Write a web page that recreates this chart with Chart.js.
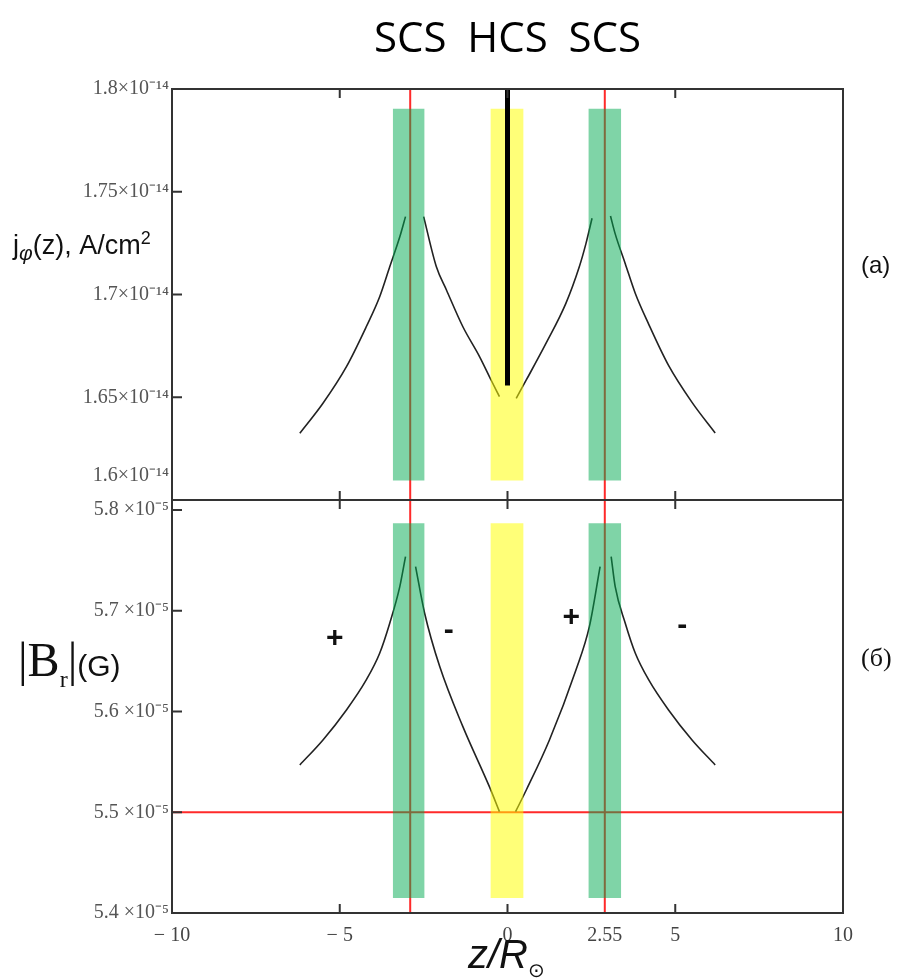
<!DOCTYPE html>
<html>
<head>
<meta charset="utf-8">
<script src="https://cdn.jsdelivr.net/npm/chart.js@4.4.0/dist/chart.umd.min.js"></script>
<style>
html,body{margin:0;padding:0;background:#fff;}
#wrap{position:relative;width:907px;height:978px;overflow:hidden;}
canvas{position:absolute;left:0;}
#top{top:0;}
#bot{top:488px;}
.lbl{position:absolute;white-space:nowrap;color:#111;}
</style>
</head>
<body>
<div id="wrap">
  <canvas id="top" width="907" height="510"></canvas>
  <canvas id="bot" width="907" height="490"></canvas>
  <div class="lbl" style="left:13px;top:228px;font:27px 'Liberation Sans';">j<sub style="font-style:italic;font-size:21px">φ</sub>(z), A/cm<sup style="font-size:18px">2</sup></div>
  <div class="lbl" style="left:18px;top:632px;"><span style="font:48px 'Liberation Serif';">|B<sub style="font-size:24px">r</sub>|</span><span style="font:30px 'Liberation Sans';">(G)</span></div>
  <div class="lbl" style="left:861px;top:251px;font:24px 'Liberation Sans';">(a)</div>
  <div class="lbl" style="left:861px;top:643px;font:26px 'Liberation Serif';">(б)</div>
  <div class="lbl" style="left:468px;top:932px;font:italic 40px 'Liberation Sans';">z/R<sub style="font-size:20px;font-style:normal">⊙</sub></div>
</div>
<script>
// ось z (в радиусах Солнца)
const zTickValues = [-10, -5, 0, 2.9, 5, 10];
const zTickLabels = ['\u2212 10', '\u2212 5', '0', '2.55', '5', '10'];
const zTickMarks = [-5, 0, 5];

// j_phi, в единицах 1e-14 A/cm^2
const jTickValues = [1.6, 1.65, 1.7, 1.75, 1.8];
const jTickLabels = ['1.6×10⁻¹⁴', '1.65×10⁻¹⁴', '1.7×10⁻¹⁴', '1.75×10⁻¹⁴', '1.8×10⁻¹⁴'];
// |B_r|, в единицах 1e-5 G
const bTickValues = [5.4, 5.5, 5.6, 5.7, 5.8];
const bTickLabels = ['5.4 ×10⁻⁵', '5.5 ×10⁻⁵', '5.6 ×10⁻⁵', '5.7 ×10⁻⁵', '5.8 ×10⁻⁵'];

// (a) четыре куска кривой j_phi(z)
const jZ1 = [-6.19, -5.50, -4.80, -4.21, -3.81, -3.51, -3.21, -3.04];
const jV1 = [1.6325, 1.6471, 1.6649, 1.6843, 1.6989, 1.7135, 1.7281, 1.7379];
const jZ2 = [-2.50, -2.12, -1.82, -1.33, -0.83, -0.49, -0.24];
const jV2 = [1.7379, 1.7135, 1.7022, 1.6843, 1.6697, 1.6584, 1.6503];
const jZ3 = [0.26, 0.56, 1.15, 1.74, 2.14, 2.34, 2.52];
const jV3 = [1.6495, 1.6584, 1.6763, 1.6957, 1.7135, 1.7249, 1.7371];
const jZ4 = [3.07, 3.21, 3.51, 3.81, 4.21, 4.80, 5.50, 6.19];
const jV4 = [1.7382, 1.7295, 1.7150, 1.7005, 1.6855, 1.6655, 1.6475, 1.6326];

// (б) четыре куска кривой |B_r|(z)
const bZ1 = [-6.19, -5.50, -4.80, -4.21, -3.81, -3.51, -3.21, -3.04];
const bV1 = [5.5470, 5.5718, 5.6016, 5.6314, 5.6579, 5.6877, 5.7240, 5.7538];
const bZ2 = [-2.74, -2.47, -2.02, -1.33, -0.54, -0.24];
const bV2 = [5.7439, 5.6976, 5.6446, 5.5850, 5.5254, 5.5006];
const bZ3 = [0.24, 0.56, 1.25, 2.04, 2.44, 2.76];
const bV3 = [5.5006, 5.5221, 5.5718, 5.6413, 5.6843, 5.7439];
const bZ4 = [3.09, 3.21, 3.51, 3.81, 4.21, 4.80, 5.50, 6.19];
const bV4 = [5.7538, 5.7240, 5.6877, 5.6579, 5.6314, 5.6016, 5.5718, 5.5470];

// токовые слои
const scsZ = [-2.9, 2.9];
const scsBands = [[-3.42, -2.47], [2.41, 3.39]];
const hcsBand = [-0.51, 0.48];
const jBandRange = [1.6095, 1.7904];
const bBandRange = [5.415, 5.787];
const hcsTop = 1.8, hcsBottom = 1.6557;
const bLevel = 5.5;

const zoneLabels = ['SCS', 'HCS', 'SCS'];
const zoneZ = [scsZ[0], 0, scsZ[1]];
const signText = ['+', '-', '+', '-'];
const signZ = [-5.15, -1.75, 1.90, 5.21];
const signB = [5.672, 5.680, 5.693, 5.685];

const RED = '#ff2a2a';
const GREEN = 'rgba(0,170,80,0.5)';
const YELLOW = 'rgba(255,255,0,0.53)';

function pts(zs, vs) { return zs.map((z, i) => ({x: z, y: vs[i]})); }

function curve(zs, vs) {
    return {data: pts(zs, vs), borderColor: '#222', borderWidth: 1.6, pointRadius: 0,
        cubicInterpolationMode: 'monotone', fill: false, order: 2};
}
function band(z0, z1, lo, hi, color) {
    return {data: [{x: z0, y: hi}, {x: z1, y: hi}], borderWidth: 0, borderColor: 'transparent',
        backgroundColor: color, fill: {value: lo}, pointRadius: 0, order: 1};
}
function vline(z, lo, hi, color, w, order) {
    return {data: [{x: z, y: lo}, {x: z, y: hi}], borderColor: color, borderWidth: w,
        borderCapStyle: 'butt', pointRadius: 0, fill: false, order: order};
}

// рамка и внутренние засечки
const framePlugin = {
    id: 'frame',
    afterDatasetsDraw(chart) {
        const {ctx, chartArea: a} = chart;
        const x = chart.scales.x, y = chart.scales.y;
        ctx.save();
        ctx.strokeStyle = '#333';
        ctx.lineWidth = 2;
        ctx.strokeRect(a.left, a.top, a.right - a.left, a.bottom - a.top);
        ctx.beginPath();
        zTickMarks.forEach(v => {
            const px = x.getPixelForValue(v);
            ctx.moveTo(px, a.top); ctx.lineTo(px, a.top + 9);
            ctx.moveTo(px, a.bottom); ctx.lineTo(px, a.bottom - 9);
        });
        y.ticks.forEach(t => {
            if (t.value > y.min && t.value < y.max) {
                const py = y.getPixelForValue(t.value);
                ctx.moveTo(a.left, py); ctx.lineTo(a.left + 10, py);
            }
        });
        ctx.stroke();
        ctx.restore();
    }
};

const zonePlugin = {
    id: 'zones',
    afterDraw(chart) {
        const ctx = chart.ctx, x = chart.scales.x;
        ctx.save();
        ctx.fillStyle = '#000';
        ctx.font = '500 42px "Open Sans"';
        ctx.textAlign = 'center';
        ctx.textBaseline = 'middle';
        zoneLabels.forEach((t, i) => ctx.fillText(t, x.getPixelForValue(zoneZ[i]), 40));
        ctx.restore();
    }
};

const signPlugin = {
    id: 'signs',
    afterDraw(chart) {
        const ctx = chart.ctx, x = chart.scales.x, y = chart.scales.y;
        ctx.save();
        ctx.fillStyle = '#111';
        ctx.font = 'bold 30px "Liberation Sans"';
        ctx.textAlign = 'center';
        ctx.textBaseline = 'middle';
        signText.forEach((t, i) => ctx.fillText(t, x.getPixelForValue(signZ[i]), y.getPixelForValue(signB[i])));
        ctx.restore();
    }
};

const tickFont = {family: 'Liberation Serif', size: 20};

function yScale(min, max, vals, labels, lowLift) {
    return {
        type: 'linear', min: min, max: max,
        grid: {display: false, drawTicks: false}, border: {display: false},
        afterBuildTicks: s => { s.ticks = vals.map(v => ({value: v})); },
        ticks: {
            autoSkip: false, padding: 3, color: '#555', font: tickFont,
            callback: v => {
                const l = labels[vals.indexOf(v)];
                return (lowLift && v === min) ? [l, '', ''] : l;
            }
        },
        afterFit: s => { s.width = 172; s.paddingTop = 0; s.paddingBottom = 0; }
    };
}

// (a) j_phi(z)
new Chart(document.getElementById('top'), {
    type: 'line',
    data: {datasets: [
        vline(0, hcsBottom, hcsTop, '#000', 5, 0),
        band(scsBands[0][0], scsBands[0][1], jBandRange[0], jBandRange[1], GREEN),
        band(scsBands[1][0], scsBands[1][1], jBandRange[0], jBandRange[1], GREEN),
        band(hcsBand[0], hcsBand[1], jBandRange[0], jBandRange[1], YELLOW),
        curve(jZ1, jV1), curve(jZ2, jV2), curve(jZ3, jV3), curve(jZ4, jV4),
        vline(scsZ[0], 1.6, 1.8, RED, 2, 3),
        vline(scsZ[1], 1.6, 1.8, RED, 2, 3)
    ]},
    options: {
        responsive: false, animation: false,
        layout: {padding: {top: 89, right: 64, left: 0, bottom: 0}},
        plugins: {legend: {display: false}, tooltip: {enabled: false}},
        scales: {
            x: {type: 'linear', min: -10, max: 10, grid: {display: false, drawTicks: false},
                border: {display: false}, ticks: {display: false},
                afterFit: s => { s.height = 10; s.paddingLeft = 0; s.paddingRight = 0; }},
            y: yScale(1.6, 1.8, jTickValues, jTickLabels, true)
        }
    },
    plugins: [framePlugin, zonePlugin]
});

// (б) |B_r|(z)
new Chart(document.getElementById('bot'), {
    type: 'line',
    data: {datasets: [
        band(scsBands[0][0], scsBands[0][1], bBandRange[0], bBandRange[1], GREEN),
        band(scsBands[1][0], scsBands[1][1], bBandRange[0], bBandRange[1], GREEN),
        band(hcsBand[0], hcsBand[1], bBandRange[0], bBandRange[1], YELLOW),
        curve(bZ1, bV1), curve(bZ2, bV2), curve(bZ3, bV3), curve(bZ4, bV4),
        vline(scsZ[0], 5.4, 5.81, RED, 2, 3),
        vline(scsZ[1], 5.4, 5.81, RED, 2, 3),
        {data: [{x: -10, y: bLevel}, {x: 10, y: bLevel}], borderColor: RED, borderWidth: 2,
         pointRadius: 0, fill: false, order: 3}
    ]},
    options: {
        responsive: false, animation: false,
        layout: {padding: {top: 12, right: 64, left: 0, bottom: 0}},
        plugins: {legend: {display: false}, tooltip: {enabled: false}},
        scales: {
            x: {type: 'linear', min: -10, max: 10, grid: {display: false, drawTicks: false},
                border: {display: false},
                afterBuildTicks: s => { s.ticks = zTickValues.map(v => ({value: v})); },
                ticks: {autoSkip: false, maxRotation: 0, padding: 11, color: '#444', font: tickFont,
                    callback: v => zTickLabels[zTickValues.indexOf(v)]},
                afterFit: s => { s.height = 65; s.paddingLeft = 0; s.paddingRight = 0; }},
            y: yScale(5.4, 5.81, bTickValues, bTickLabels, false)
        }
    },
    plugins: [framePlugin, signPlugin]
});
</script>
</body>
</html>
